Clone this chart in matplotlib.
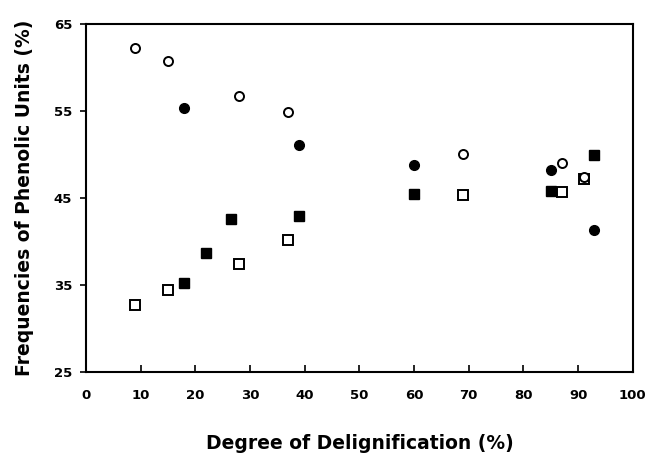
import matplotlib.pyplot as plt

# open circles
oc_x = [9, 15, 28, 37, 69, 87, 91]
oc_y = [62.2, 60.8, 56.7, 54.9, 50.0, 49.0, 47.4]
# filled circles
fc_x = [18, 39, 60, 85, 93]
fc_y = [55.3, 51.1, 48.8, 48.2, 41.3]
# filled squares
fs_x = [18, 22, 26.5, 39, 60, 85, 93]
fs_y = [35.2, 38.7, 42.6, 42.9, 45.4, 45.8, 49.9]
# open squares
os_x = [9, 15, 28, 37, 69, 87, 91]
os_y = [32.7, 34.4, 37.4, 40.2, 45.3, 45.7, 47.2]

x_ticks = [0, 10, 20, 30, 40, 50, 60, 70, 80, 90, 100]
y_ticks = [25, 35, 45, 55, 65]

plt.rcParams['font.family'] = ['DejaVu Sans']
plt.rcParams['font.weight'] = 'bold'

fig = plt.figure(figsize=(6.47, 4.53), dpi=100)
ax = fig.add_axes([0.133, 0.179, 0.845, 0.768])

ax.plot(os_x, os_y, 's', ms=7, mfc='white', mec='black', mew=1.4, ls='none')
ax.plot(fs_x, fs_y, 's', ms=7, mfc='black', mec='black', mew=1.0, ls='none')
ax.plot(oc_x, oc_y, 'o', ms=6.5, mfc='white', mec='black', mew=1.4, ls='none')
ax.plot(fc_x, fc_y, 'o', ms=7, mfc='black', mec='black', mew=1.0, ls='none')

ax.set_xlim(0, 100)
ax.set_ylim(25, 65)
ax.set_xticks(x_ticks)
ax.set_yticks(y_ticks)
ax.tick_params(axis='x', direction='in', length=5, width=1.2, labelsize=9.5, pad=12)
ax.tick_params(axis='y', direction='out', length=4, width=1.2, labelsize=9.5, pad=6)
for lab in ax.get_xticklabels() + ax.get_yticklabels():
    lab.set_fontweight('bold')
for s in ax.spines.values():
    s.set_linewidth(1.5)

ax.set_xlabel('Degree of Delignification (%)', fontsize=13.5, fontweight='bold', labelpad=23)
ax.set_ylabel('Frequencies of Phenolic Units (%)', fontsize=13.5, fontweight='bold', labelpad=14)

fig.savefig('out.png', dpi=100)
